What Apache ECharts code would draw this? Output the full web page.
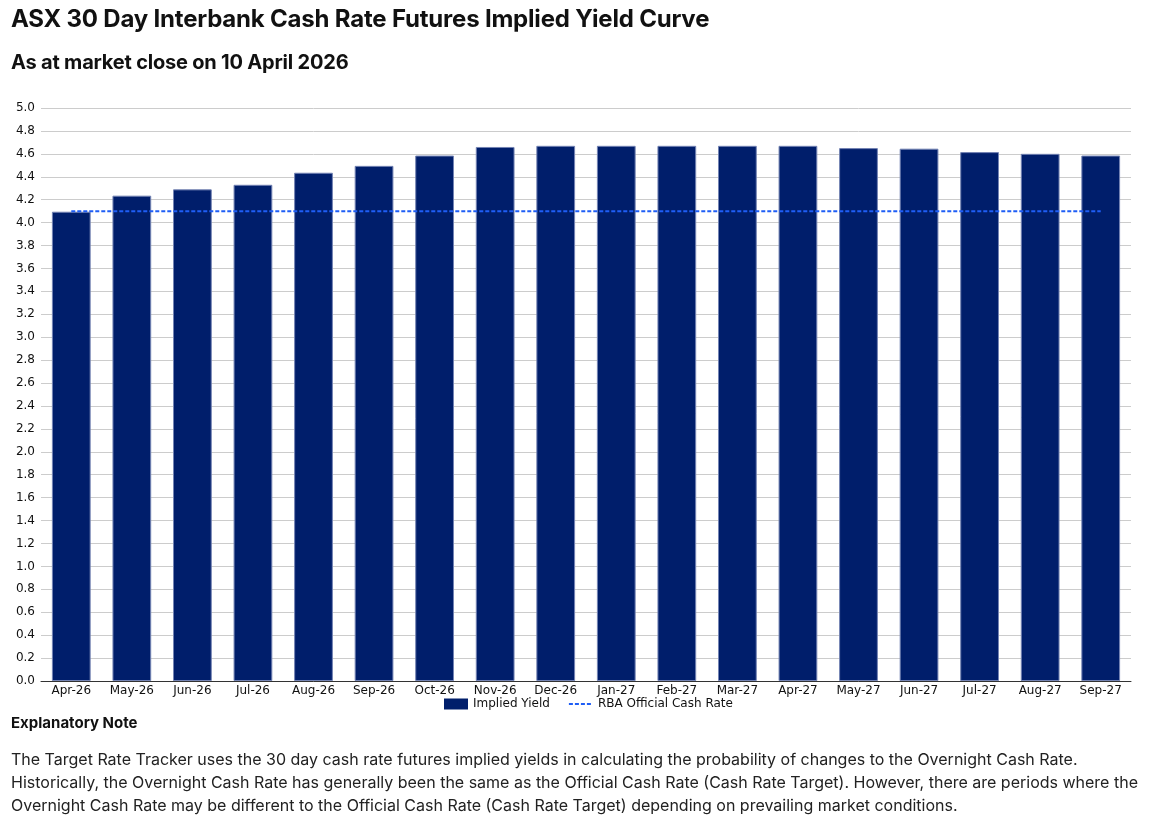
<!DOCTYPE html>
<html>
<head>
<meta charset="utf-8">
<script src="https://cdn.jsdelivr.net/npm/echarts@6/dist/echarts.min.js"></script>
<style>
  html, body { margin:0; padding:0; background:#fff; width:1152px; height:823px; overflow:hidden; }
  #chart { position:absolute; left:0; top:0; width:1152px; height:823px; }
  .txt { position:absolute; font-family: Inter, Roboto, "Noto Sans", sans-serif; color:#111; white-space:nowrap; }
  #title { left:11px; top:4px; font-size:24px; font-weight:700; letter-spacing:-0.2px; }
  #subtitle { left:11px; top:50px; font-size:20px; font-weight:700; letter-spacing:-0.2px; }
  #noteHead { left:11px; top:713px; font-size:15px; font-weight:700; }
  #note { left:11px; top:748px; font-size:16px; line-height:23px; color:#222; }
</style>
</head>
<body>
<div id="chart"></div>
<div class="txt" id="title">ASX 30 Day Interbank Cash Rate Futures Implied Yield Curve</div>
<div class="txt" id="subtitle">As at market close on 10 April 2026</div>
<div class="txt" id="noteHead">Explanatory Note</div>
<div class="txt" id="note">The Target Rate Tracker uses the 30 day cash rate futures implied yields in calculating the probability of changes to the Overnight Cash Rate.<br>Historically, the Overnight Cash Rate has generally been the same as the Official Cash Rate (Cash Rate Target). However, there are periods where the<br>Overnight Cash Rate may be different to the Official Cash Rate (Cash Rate Target) depending on prevailing market conditions.</div>
<script>
const categories = ['Apr-26','May-26','Jun-26','Jul-26','Aug-26','Sep-26','Oct-26','Nov-26','Dec-26','Jan-27','Feb-27','Mar-27','Apr-27','May-27','Jun-27','Jul-27','Aug-27','Sep-27'];
const impliedYield = [4.095,4.235,4.29,4.33,4.435,4.495,4.585,4.66,4.67,4.67,4.67,4.67,4.67,4.65,4.645,4.615,4.60,4.585];
const rbaCashRate = [4.10,4.10,4.10,4.10,4.10,4.10,4.10,4.10,4.10,4.10,4.10,4.10,4.10,4.10,4.10,4.10,4.10,4.10];
const yTicks = { min: 0, max: 5, interval: 0.2 };

const chart = echarts.init(document.getElementById('chart'), null, { renderer: 'canvas' });
const labelFont = { fontFamily: '"DejaVu Sans", Verdana, sans-serif', fontSize: 12, color: '#111' };
chart.setOption({
  animation: false,
  grid: { left: 41, right: 21, top: 108, bottom: 142, containLabel: false },
  legend: {
    bottom: 108, left: 439,
    itemWidth: 24, itemHeight: 11, itemGap: 18,
    textStyle: Object.assign({}, labelFont),
    data: [
      { name: 'Implied Yield', icon: 'rect', itemStyle: { borderWidth: 0 } },
      { name: 'RBA Official Cash Rate', itemStyle: { opacity: 0 } }
    ]
  },
  xAxis: {
    type: 'category', data: categories,
    axisLine: { lineStyle: { color: '#333', width: 1 } },
    axisTick: { show: false },
    axisLabel: Object.assign({ margin: 4, interval: 0 }, labelFont)
  },
  yAxis: {
    type: 'value', min: yTicks.min, max: yTicks.max, interval: yTicks.interval,
    axisLine: { show: false }, axisTick: { show: false },
    axisLabel: Object.assign({ margin: 6, formatter: v => v.toFixed(1) }, labelFont),
    splitLine: { lineStyle: { color: '#cccccc', width: 1 } }
  },
  series: [
    {
      name: 'Implied Yield', type: 'bar', data: impliedYield, barWidth: '64%',
      itemStyle: { color: '#001e6b', borderColor: '#7383b3', borderWidth: 1 }
    },
    {
      name: 'RBA Official Cash Rate', type: 'line', data: rbaCashRate,
      symbol: 'none', z: 5,
      lineStyle: { color: '#1f5ef5', width: 2, type: [4, 2] },
      itemStyle: { color: '#1f5ef5' }
    }
  ]
});
</script>
</body>
</html>
